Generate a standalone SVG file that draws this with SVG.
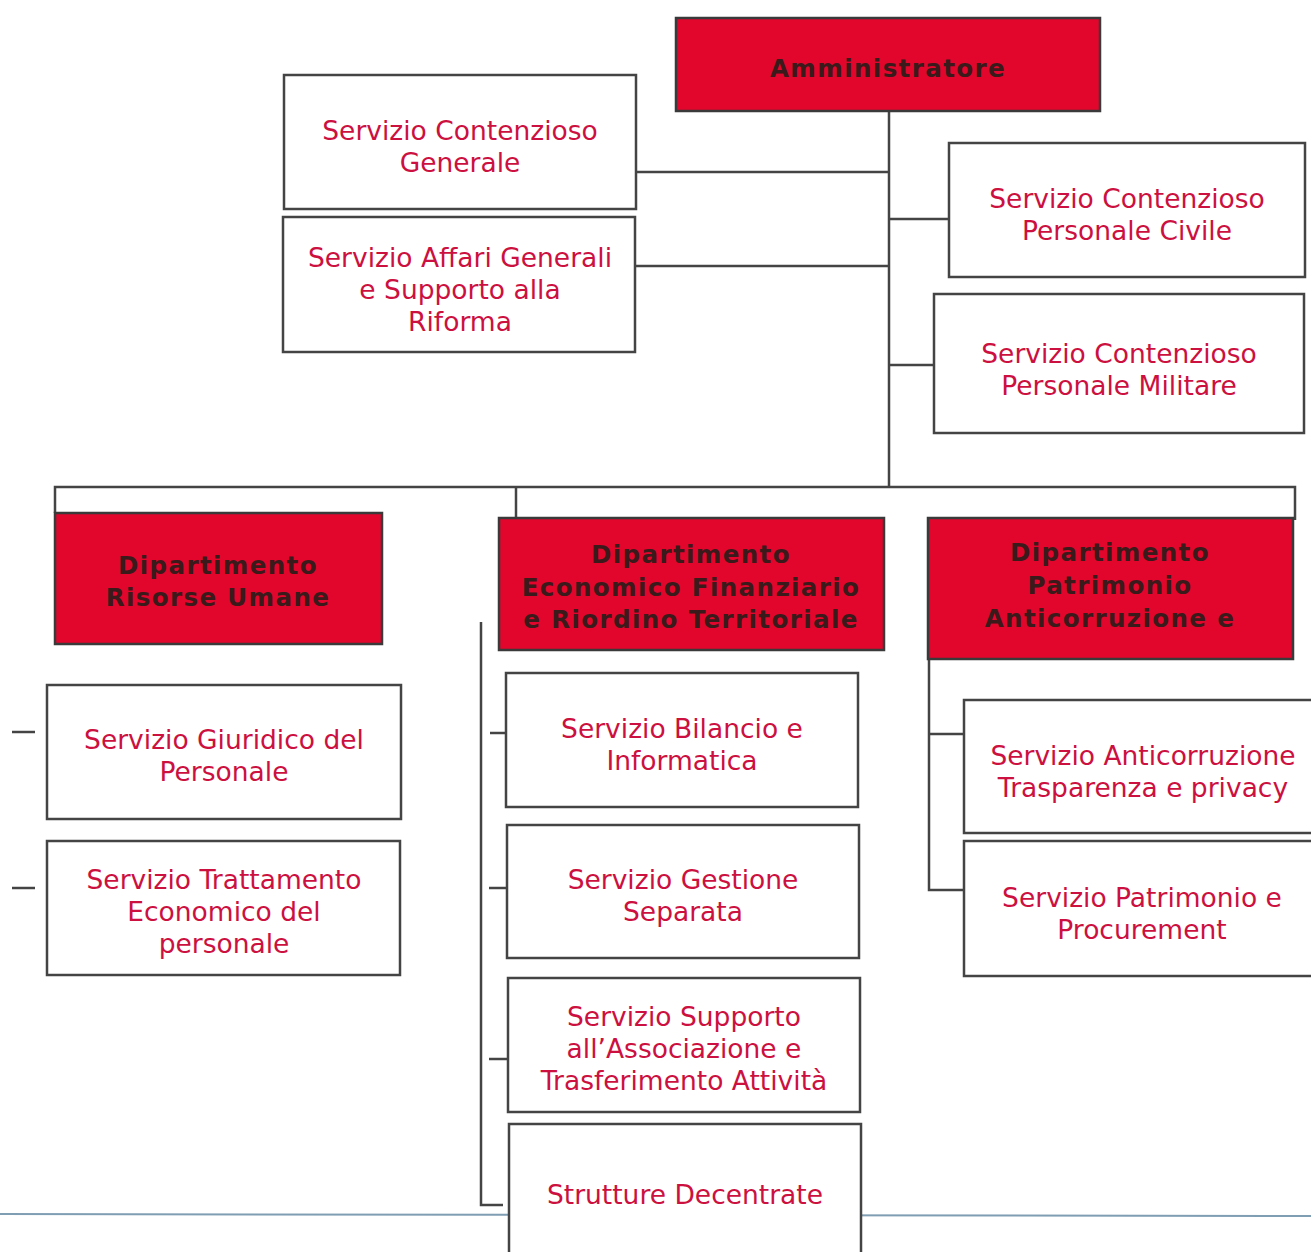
<svg xmlns="http://www.w3.org/2000/svg" width="1311" height="1252" viewBox="0 0 1311 1252">
<style>
.box{fill:#fff;stroke:#444;stroke-width:2.5}
.red{fill:#e2062c;stroke:#3a3a3a;stroke-width:2.5}
.t{font-family:"DejaVu Sans",Verdana,sans-serif;font-size:26.5px;fill:#cc1040;text-anchor:middle}
.rt{font-family:"DejaVu Sans",Verdana,sans-serif;font-size:24.5px;font-weight:bold;fill:#3a1a1a;text-anchor:middle;letter-spacing:1.4px}
.c{fill:none;stroke:#444;stroke-width:2.5}
</style>
<rect width="1311" height="1252" fill="#fff"/>
<line x1="0" y1="1214" x2="1311" y2="1216" stroke="#7f9db3" stroke-width="2"/>
<g id="connectors">
<path class="c" d="M889 111 V487"/>
<path class="c" d="M636 172 H889"/>
<path class="c" d="M635 266 H889"/>
<path class="c" d="M889 219 H949"/>
<path class="c" d="M888 365 H934"/>
<path class="c" d="M55 513 V487 H1295 V520"/>
<path class="c" d="M516 487 V519"/>
<path class="c" d="M12 732 H35"/>
<path class="c" d="M12 888 H35"/>
<path class="c" d="M481 622 V1205 H503"/>
<path class="c" d="M490 733 H506"/>
<path class="c" d="M489 888 H507"/>
<path class="c" d="M489 1059 H508"/>
<path class="c" d="M929 660 V890 H964"/>
<path class="c" d="M929 734 H964"/>
</g>
<g id="n-amministratore"><rect class="red" x="676" y="18" width="424" height="93"/><text class="rt" x="888" y="77">Amministratore</text></g>
<g id="n-contenzioso-generale"><rect class="box" x="284" y="75" width="352" height="134"/><text class="t" x="460" y="140">Servizio Contenzioso</text><text class="t" x="460" y="172">Generale</text></g>
<g id="n-affari-generali"><rect class="box" x="283" y="217" width="352" height="135"/><text class="t" x="460" y="267">Servizio Affari Generali</text><text class="t" x="460" y="299">e Supporto alla</text><text class="t" x="460" y="331">Riforma</text></g>
<g id="n-personale-civile"><rect class="box" x="949" y="143" width="356" height="134"/><text class="t" x="1127" y="208">Servizio Contenzioso</text><text class="t" x="1127" y="240">Personale Civile</text></g>
<g id="n-personale-militare"><rect class="box" x="934" y="294" width="370" height="139"/><text class="t" x="1119" y="363">Servizio Contenzioso</text><text class="t" x="1119" y="395">Personale Militare</text></g>
<g id="n-dip-risorse"><rect class="red" x="55" y="513" width="327" height="131"/><text class="rt" x="218" y="574">Dipartimento</text><text class="rt" x="218" y="606">Risorse Umane</text></g>
<g id="n-dip-economico"><rect class="red" x="499" y="518" width="385" height="132"/><text class="rt" x="691" y="563">Dipartimento</text><text class="rt" x="691" y="596">Economico Finanziario</text><text class="rt" x="691" y="628">e Riordino Territoriale</text></g>
<g id="n-dip-patrimonio"><rect class="red" x="928" y="518" width="365" height="141"/><text class="rt" x="1110" y="561">Dipartimento</text><text class="rt" x="1110" y="594">Patrimonio</text><text class="rt" x="1110" y="627">Anticorruzione e</text></g>
<g id="n-giuridico"><rect class="box" x="47" y="685" width="354" height="134"/><text class="t" x="224" y="749">Servizio Giuridico del</text><text class="t" x="224" y="781">Personale</text></g>
<g id="n-trattamento"><rect class="box" x="47" y="841" width="353" height="134"/><text class="t" x="224" y="889">Servizio Trattamento</text><text class="t" x="224" y="921">Economico del</text><text class="t" x="224" y="953">personale</text></g>
<g id="n-bilancio"><rect class="box" x="506" y="673" width="352" height="134"/><text class="t" x="682" y="738">Servizio Bilancio e</text><text class="t" x="682" y="770">Informatica</text></g>
<g id="n-gestione"><rect class="box" x="507" y="825" width="352" height="133"/><text class="t" x="683" y="889">Servizio Gestione</text><text class="t" x="683" y="921">Separata</text></g>
<g id="n-supporto"><rect class="box" x="508" y="978" width="352" height="134"/><text class="t" x="684" y="1026">Servizio Supporto</text><text class="t" x="684" y="1058">all’Associazione e</text><text class="t" x="684" y="1090">Trasferimento Attività</text></g>
<g id="n-strutture"><rect class="box" x="509" y="1124" width="352" height="140"/><text class="t" x="685" y="1204">Strutture Decentrate</text></g>
<g id="n-anticorruzione"><rect class="box" x="964" y="700" width="360" height="133"/><text class="t" x="1143" y="765">Servizio Anticorruzione</text><text class="t" x="1143" y="797">Trasparenza e privacy</text></g>
<g id="n-patrimonio-proc"><rect class="box" x="964" y="841" width="360" height="135"/><text class="t" x="1142" y="907">Servizio Patrimonio e</text><text class="t" x="1142" y="939">Procurement</text></g>
</svg>
